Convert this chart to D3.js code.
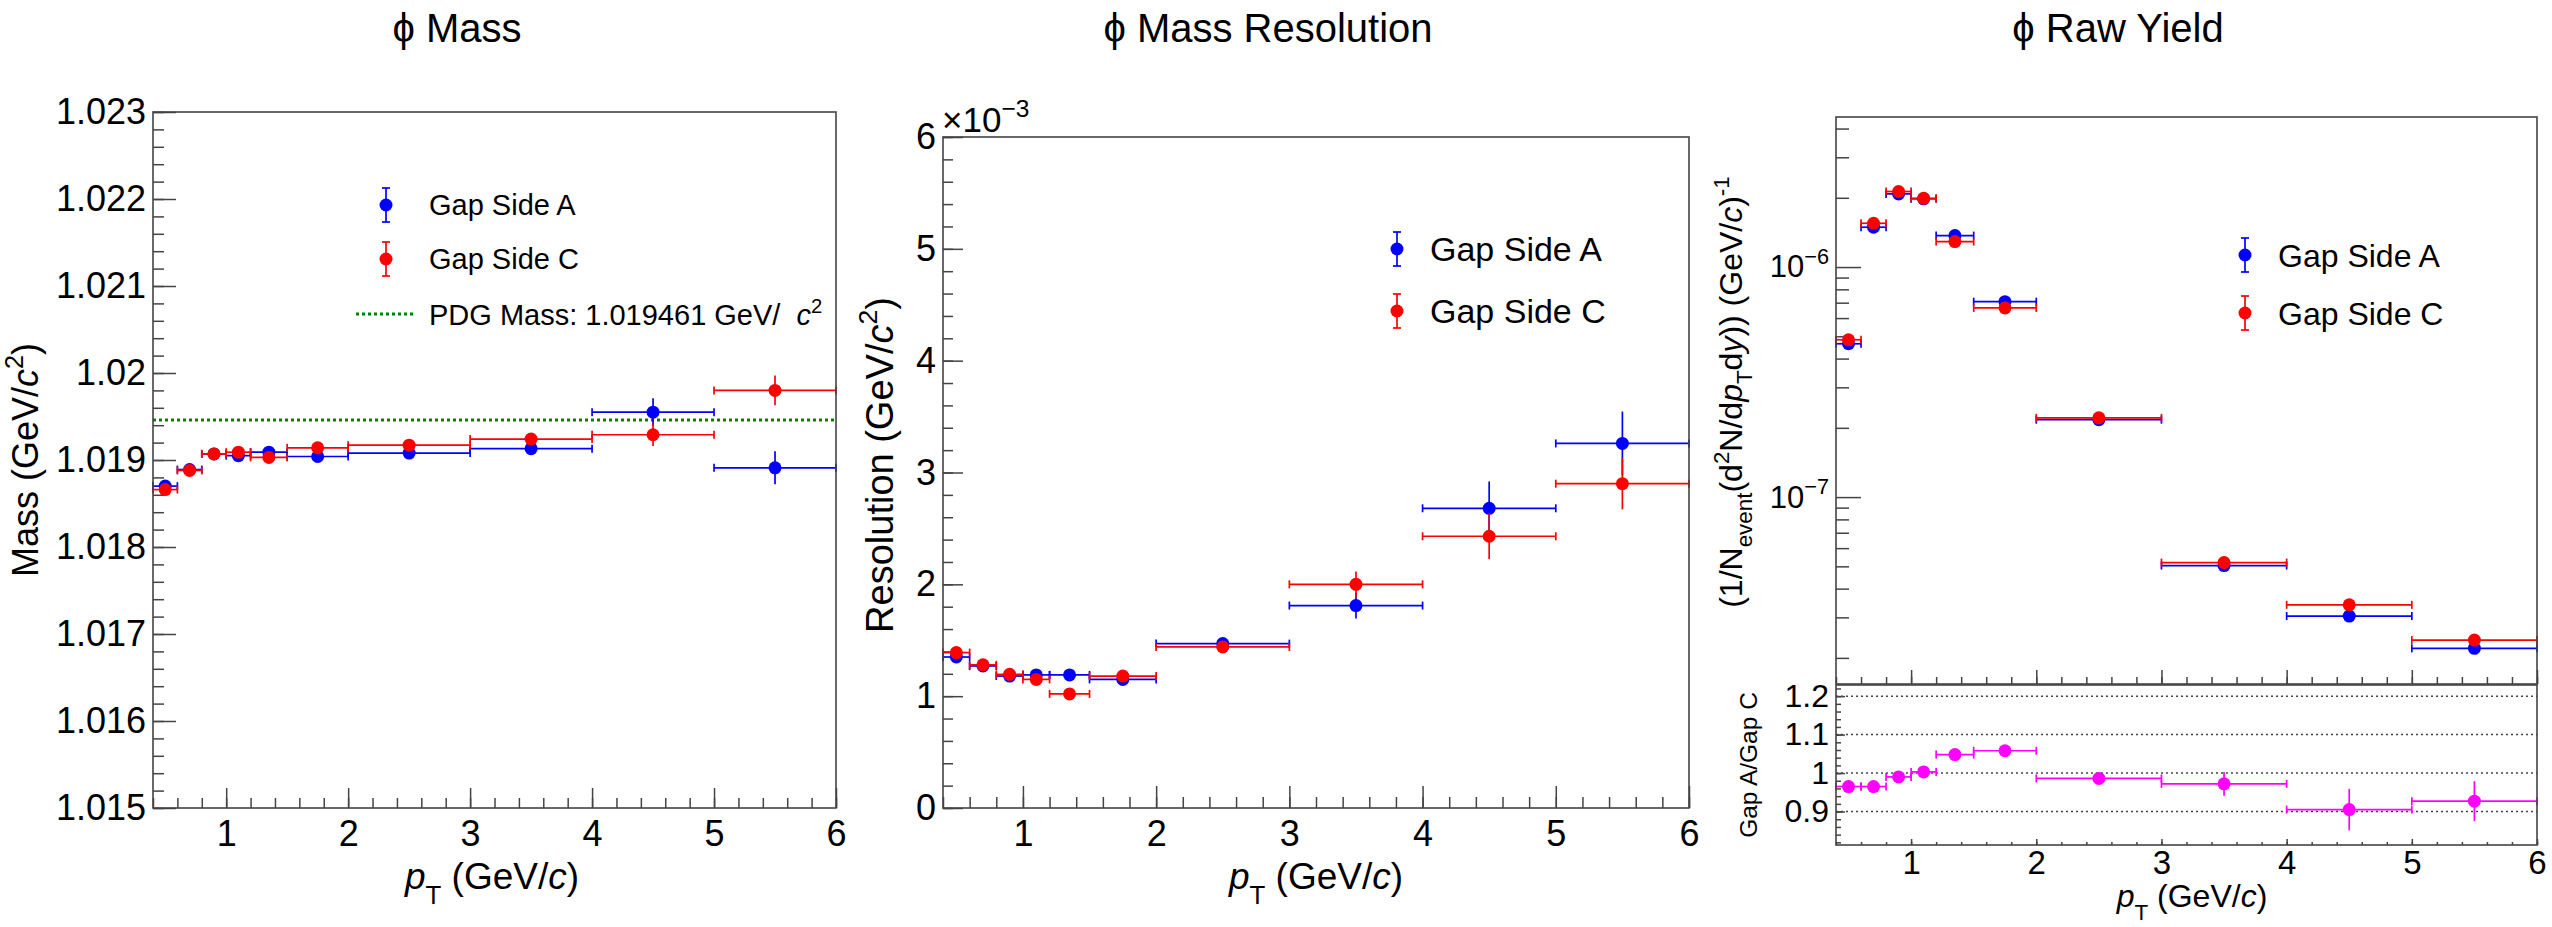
<!DOCTYPE html>
<html>
<head>
<meta charset="utf-8">
<script src="https://cdn.jsdelivr.net/npm/d3@7"></script>
<style>
  html, body { margin: 0; padding: 0; background: #fff; }
  svg { display: block; font-family: "Liberation Sans", Arial, Helvetica, sans-serif; }
  .axis path { display: none; }
  .axis line { stroke: #444; stroke-width: 1.5; }
  .frame { fill: none; stroke: #444; stroke-width: 1.6; }
  text { white-space: pre; }
</style>
</head>
<body>
<svg id="canvas" width="2552" height="927"></svg>
<script>
// ---------- data ----------
const ptEdges = [0.4, 0.6, 0.8, 1.0, 1.2, 1.5, 2, 3, 4, 5, 6];
const ptBins  = [0.5, 0.7, 0.9, 1.1, 1.35, 1.75, 2.5, 3.5, 4.5, 5.5];
const ptTicks = [1, 2, 3, 4, 5, 6];

const massA    = [1.01870, 1.01889, 1.01907, 1.01905, 1.01909, 1.01904, 1.01908, 1.01913, 1.01955, 1.01891];
const massAErr = [0.00003, 0.00002, 0.00002, 0.00002, 0.00003, 0.00003, 0.00003, 0.00005, 0.00016, 0.00019];
const massC    = [1.01866, 1.01888, 1.01907, 1.01909, 1.01903, 1.01914, 1.01917, 1.01924, 1.01929, 1.01980];
const massCErr = [0.00003, 0.00002, 0.00002, 0.00002, 0.00003, 0.00003, 0.00003, 0.00006, 0.00013, 0.00017];
const pdgMass = 1.019461;
const massTicks = [1.015, 1.016, 1.017, 1.018, 1.019, 1.02, 1.021, 1.022, 1.023];

// resolution in units of 1e-3 GeV/c^2
const resA    = [1.35, 1.27, 1.18, 1.19, 1.19, 1.15, 1.47, 1.81, 2.68, 3.26];
const resAErr = [0.03, 0.02, 0.02, 0.02, 0.02, 0.03, 0.03, 0.115, 0.24, 0.285];
const resC    = [1.39, 1.28, 1.195, 1.15, 1.02, 1.18, 1.44, 2.00, 2.43, 2.90];
const resCErr = [0.03, 0.02, 0.02, 0.02, 0.02, 0.03, 0.03, 0.115, 0.205, 0.23];
const resTicks = [0, 1, 2, 3, 4, 5, 6];

const yieldA    = [4.64e-7, 1.49e-6, 2.08e-6, 1.98e-6, 1.37e-6, 7.07e-7, 2.17e-7, 5.04e-8, 3.04e-8, 2.20e-8];
const yieldAErr = [1.2e-8, 3.0e-8, 3.5e-8, 3.2e-8, 2.5e-8, 1.2e-8, 3.0e-9, 1.2e-9, 1.2e-9, 8e-10];
const yieldC    = [4.83e-7, 1.55e-6, 2.13e-6, 1.99e-6, 1.29e-6, 6.64e-7, 2.21e-7, 5.19e-8, 3.40e-8, 2.39e-8];
const yieldCErr = [1.2e-8, 3.0e-8, 3.5e-8, 3.2e-8, 2.5e-8, 1.2e-8, 3.0e-9, 1.2e-9, 1.2e-9, 8e-10];
const yieldTicks = [1e-7, 1e-6];

const ratio    = [0.965, 0.965, 0.990, 1.003, 1.048, 1.058, 0.986, 0.972, 0.905, 0.927];
const ratioErr = [0.008, 0.008, 0.009, 0.013, 0.010, 0.010, 0.010, 0.031, 0.054, 0.052];
const ratioTicks = [0.9, 1.0, 1.1, 1.2];

// ---------- helpers ----------
const svg = d3.select("#canvas");
svg.append("rect").attr("width", 2552).attr("height", 927).attr("fill", "#fff");

const range = (a, b, s) => d3.range(Math.round((b - a) / s) + 1).map(i => +(a + i * s).toFixed(6));

// rich text: parts = [[text, "i sub sup"]]
function rich(sel, parts, fs, subShift = 0.32) {
  let shift = 0;
  parts.forEach(([t, st = ""]) => {
    const f = st.split(" ");
    let target = 0, size = fs;
    if (f.includes("sub")) { target = subShift * fs; size = 0.7 * fs; }
    if (f.includes("sup")) { target = -0.42 * fs; size = 0.7 * fs; }
    const ts = sel.append("tspan").text(t).attr("font-size", size);
    if (target - shift !== 0) ts.attr("dy", target - shift);
    if (f.includes("i")) ts.attr("font-style", "italic");
    shift = target;
  });
  return sel;
}

function frame(p) {
  svg.append("rect").attr("class", "frame")
    .attr("x", p.l).attr("y", p.t).attr("width", p.r - p.l).attr("height", p.b - p.t);
}

function leftAxis(p, y, major, minor, bigT, smallT, fs, fmt) {
  svg.append("g").attr("class", "axis").attr("transform", `translate(${p.l},0)`)
    .call(d3.axisLeft(y).tickValues(minor).tickSize(-smallT).tickFormat(""));
  const g = svg.append("g").attr("class", "axis").attr("transform", `translate(${p.l},0)`)
    .call(d3.axisLeft(y).tickValues(major).tickSize(-bigT).tickPadding(7).tickFormat(fmt));
  g.selectAll("text").attr("font-size", fs).attr("font-family", null).attr("fill", "#000");
  return g;
}

function bottomAxis(p, x, bigT, smallT, fs, pad, labels) {
  svg.append("g").attr("class", "axis").attr("transform", `translate(0,${p.b})`)
    .call(d3.axisBottom(x).tickValues(range(0.4, 6, 0.2)).tickSize(-smallT).tickFormat(""));
  const g = svg.append("g").attr("class", "axis").attr("transform", `translate(0,${p.b})`)
    .call(d3.axisBottom(x).tickValues(ptTicks).tickSize(-bigT).tickPadding(pad)
      .tickFormat(labels ? d3.format("d") : ""));
  g.selectAll("text").attr("font-size", fs).attr("font-family", null).attr("fill", "#000");
}

function errPoints(x, y, vals, errs, color) {
  const pts = ptBins.map((c, i) => ({ c, lo: ptEdges[i], hi: ptEdges[i + 1], v: vals[i], e: errs[i] }));
  const g = svg.append("g").attr("stroke", color).attr("stroke-width", 1.7);
  g.selectAll(".h").data(pts).join("line")
    .attr("x1", d => x(d.lo)).attr("x2", d => x(d.hi))
    .attr("y1", d => y(d.v)).attr("y2", d => y(d.v));
  [d => x(d.lo), d => x(d.hi)].forEach(fx => {
    g.selectAll(null).data(pts).join("line")
      .attr("x1", fx).attr("x2", fx)
      .attr("y1", d => y(d.v) - 4).attr("y2", d => y(d.v) + 4);
  });
  g.selectAll(".v").data(pts).join("line")
    .attr("x1", d => x(d.c)).attr("x2", d => x(d.c))
    .attr("y1", d => y(d.v - d.e)).attr("y2", d => y(d.v + d.e));
  [d => y(d.v - d.e), d => y(d.v + d.e)].forEach(fy => {
    g.selectAll(null).data(pts).filter(d => Math.abs(y(d.v - d.e) - y(d.v)) > 7).join("line")
      .attr("x1", d => x(d.c) - 4).attr("x2", d => x(d.c) + 4)
      .attr("y1", fy).attr("y2", fy);
  });
  svg.append("g").selectAll("circle").data(pts).join("circle")
    .attr("cx", d => x(d.c)).attr("cy", d => y(d.v)).attr("r", 6.5).attr("fill", color);
}

function legendMarker(cx, cy, color, label, fs, tx) {
  const g = svg.append("g").attr("stroke", color).attr("stroke-width", 1.7);
  g.append("line").attr("x1", cx).attr("x2", cx).attr("y1", cy - 17).attr("y2", cy + 17);
  g.append("line").attr("x1", cx - 4).attr("x2", cx + 4).attr("y1", cy - 17).attr("y2", cy - 17);
  g.append("line").attr("x1", cx - 4).attr("x2", cx + 4).attr("y1", cy + 17).attr("y2", cy + 17);
  svg.append("circle").attr("cx", cx).attr("cy", cy).attr("r", 6.5).attr("fill", color);
  svg.append("text").attr("x", tx).attr("y", cy + 0.36 * fs).attr("font-size", fs).text(label);
}

function title(cx, label) {
  svg.append("text").attr("x", cx).attr("y", 42).attr("text-anchor", "middle")
    .attr("font-size", 40).text(label);
}

function xTitle(cx, by, fs) {
  rich(svg.append("text").attr("x", cx).attr("y", by).attr("text-anchor", "middle").attr("font-size", fs),
    [["p", "i"], ["T", "sub"], [" (GeV/"], ["c", "i"], [")"]], fs, 0.4);
}

function yTitle(bx, cy, fs, parts) {
  rich(svg.append("text").attr("transform", `translate(${bx},${cy}) rotate(-90)`)
    .attr("text-anchor", "middle").attr("font-size", fs), parts, fs);
}

const BLUE = "#0000ff", RED = "#ff0000", MAG = "#ff00ff";

// ---------- panel 1 : mass ----------
const p1 = { l: 153, r: 836, t: 112, b: 808 };
const x1 = d3.scaleLinear().domain([0.4, 6]).range([p1.l, p1.r]);
const y1 = d3.scaleLinear().domain([1.015, 1.023]).range([p1.b, p1.t]);
leftAxis(p1, y1, massTicks, range(1.015, 1.023, 0.0002), 23, 11, 36, d3.format(".4~f"));
bottomAxis(p1, x1, 20, 10, 36, 12, true);
svg.append("line").attr("x1", p1.l).attr("x2", p1.r).attr("y1", y1(pdgMass)).attr("y2", y1(pdgMass))
  .attr("stroke", "#008000").attr("stroke-width", 3).attr("stroke-dasharray", "3,3");
errPoints(x1, y1, massA, massAErr, BLUE);
errPoints(x1, y1, massC, massCErr, RED);
frame(p1);
title(457, "\u03d5 Mass");
xTitle(492, 889, 37);
yTitle(38, 460, 36, [["Mass (GeV/"], ["c", "i"], ["2", "sup"], [")"]]);
legendMarker(386, 205, BLUE, "Gap Side A", 29, 429);
legendMarker(386, 259, RED, "Gap Side C", 29, 429);
svg.append("line").attr("x1", 356).attr("x2", 415).attr("y1", 314).attr("y2", 314)
  .attr("stroke", "#008000").attr("stroke-width", 3).attr("stroke-dasharray", "3,3");
rich(svg.append("text").attr("x", 429).attr("y", 325).attr("font-size", 29),
  [["PDG Mass: 1.019461 GeV/  "], ["c", "i"], ["2", "sup"]], 29);

// ---------- panel 2 : resolution ----------
const p2 = { l: 943, r: 1689, t: 137, b: 808 };
const x2 = d3.scaleLinear().domain([0.4, 6]).range([p2.l, p2.r]);
const y2 = d3.scaleLinear().domain([0, 6]).range([p2.b, p2.t]);
leftAxis(p2, y2, resTicks, range(0, 6, 0.2), 20, 10, 36, d3.format("d"));
bottomAxis(p2, x2, 22, 11, 36, 12, true);
errPoints(x2, y2, resA, resAErr, BLUE);
errPoints(x2, y2, resC, resCErr, RED);
frame(p2);
rich(svg.append("text").attr("x", 942).attr("y", 132).attr("font-size", 35),
  [["\u00d710"], ["\u22123", "sup"]], 35);
title(1268, "\u03d5 Mass Resolution");
xTitle(1316, 889, 37);
yTitle(893, 465, 38, [["Resolution (GeV/"], ["c", "i"], ["2", "sup"], [")"]]);
legendMarker(1397, 249, BLUE, "Gap Side A", 34, 1430);
legendMarker(1397, 311, RED, "Gap Side C", 34, 1430);

// ---------- panel 3 : raw yield + ratio ----------
const p3 = { l: 1836, r: 2537, t: 117, b: 684 };
const p4 = { l: 1836, r: 2537, t: 685, b: 845 };
const x3 = d3.scaleLinear().domain([0.4, 6]).range([p3.l, p3.r]);
const y3 = d3.scaleLog().domain([1.54e-8, 4.49e-6]).range([p3.b, p3.t]);
const y4 = d3.scaleLinear().domain([0.813, 1.229]).range([p4.b, p4.t]);

const logMinor = [];
[-8, -7, -6].forEach(k => d3.range(2, 10).forEach(m => {
  const v = m * Math.pow(10, k);
  if (v > 1.54e-8 && v < 4.49e-6) logMinor.push(v);
}));
const gy3 = leftAxis(p3, y3, yieldTicks, logMinor, 25, 13, 31, d => d);
gy3.selectAll("text").each(function (d) {
  const t = d3.select(this).text("");
  rich(t, [["10"], ["\u2212" + Math.round(-Math.log10(d)), "sup"]], 31);
});
bottomAxis(p3, x3, 14, 7, 32, 10, false);

// ratio gridlines
svg.append("g").selectAll("line").data(ratioTicks).join("line")
  .attr("x1", p4.l).attr("x2", p4.r).attr("y1", d => y4(d)).attr("y2", d => y4(d))
  .attr("stroke", "#444").attr("stroke-width", 1.5).attr("stroke-dasharray", "2,3");
leftAxis(p4, y4, ratioTicks, range(0.82, 1.22, 0.02), 9, 5, 32, d3.format(".2~f"));
bottomAxis(p4, x3, 6, 3, 33, 6, true);

errPoints(x3, y3, yieldA, yieldAErr, BLUE);
errPoints(x3, y3, yieldC, yieldCErr, RED);
errPoints(x3, y4, ratio, ratioErr, MAG);
frame(p3);
frame(p4);
title(2118, "\u03d5 Raw Yield");
xTitle(2192, 907, 32);
yTitle(1742, 392, 32, [["(1/N"], ["event", "sub"], ["(d"], ["2", "sup"], ["N/d"], ["p", "i"], ["T", "sub"],
  ["d"], ["y", "i"], [")) (GeV/"], ["c", "i"], [")"], ["-1", "sup"]]);
yTitle(1757, 765, 24.5, [["Gap A/Gap C"]]);
legendMarker(2245, 255, BLUE, "Gap Side A", 32, 2278);
legendMarker(2245, 313, RED, "Gap Side C", 32, 2278);
</script>
</body>
</html>
